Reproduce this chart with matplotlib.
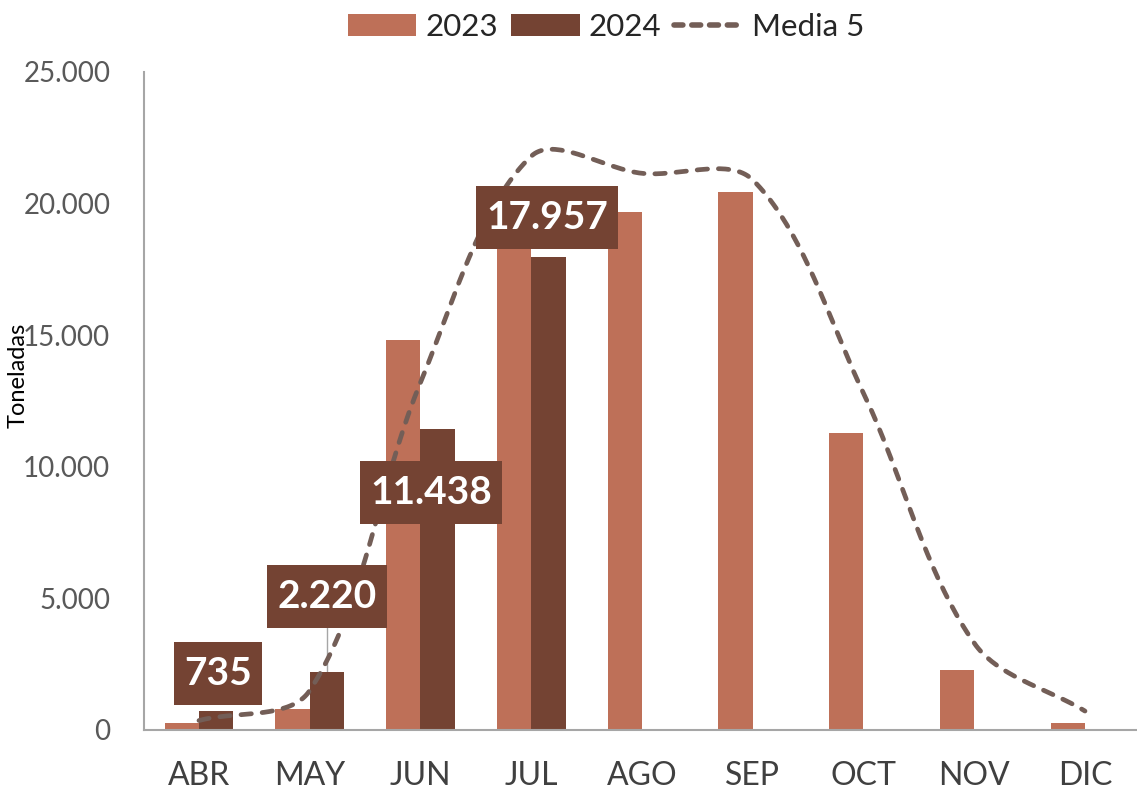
import numpy as np
import matplotlib
matplotlib.use("Agg")
import matplotlib.pyplot as plt
from matplotlib.ticker import FuncFormatter
from matplotlib.patches import Rectangle, Patch
from matplotlib.lines import Line2D
from matplotlib.transforms import IdentityTransform

plt.rcParams['font.family'] = ['Lato', 'DejaVu Sans']

# ---- data ----
months = ["ABR", "MAY", "JUN", "JUL", "AGO", "SEP", "OCT", "NOV", "DIC"]
v2023 = [280, 780, 14830, 18700, 19680, 20440, 11280, 2270, 280]
v2024 = [735, 2220, 11438, 17957]
media5 = [360, 1500, 13200, 21800, 21150, 20900, 12800, 3300, 720]
label_texts = ["735", "2.220", "11.438", "17.957"]

# ---- layout for data labels (offsets relative to bar top) ----
label_dx = [0.02, 0.0, -0.06, -0.01]
label_dy = [1430, 2870, -2430, 1530]

c2023 = "#BE7058"
c2024 = "#744333"
cline = "#735E57"

fig = plt.figure(figsize=(11.37, 7.93), dpi=100)
ax = fig.add_axes([143.6 / 1137, 1 - 730 / 793, 996.75 / 1137, 658 / 793])

x = np.arange(len(months))
w = 0.31
ax.bar(x - w / 2, v2023, width=w, color=c2023, zorder=2)
x24 = x[:len(v2024)]
ax.bar(x24 + w / 2, v2024, width=w, color=c2024, zorder=2)

ax.set_xlim(-0.5, len(months) - 0.5)
ax.set_ylim(0, 25000)

# smoothed line, Excel-like Bezier smoothing computed in screen space
def excel_smooth(xs, ys, n=40):
    pts = ax.transData.transform(np.column_stack([xs, ys]).astype(float))
    N = len(pts)
    out = []
    for i in range(N - 1):
        p1, p2 = pts[i], pts[i + 1]
        p0 = pts[i - 1] if i > 0 else p1
        p3 = pts[i + 2] if i + 2 < N else p2
        d1 = np.hypot(*(p1 - p0)); d2 = np.hypot(*(p2 - p1))
        T1 = p2 - p0
        c1 = p1 + T1 * (d2 / (d1 + d2)) / 3 if d1 + d2 > 0 else p1
        e1 = np.hypot(*(p2 - p1)); e2 = np.hypot(*(p3 - p2))
        T2 = p3 - p1
        c2 = p2 - T2 * (e1 / (e1 + e2)) / 3 if e1 + e2 > 0 else p2
        t = np.linspace(0, 1, n, endpoint=(i == N - 2))[:, None]
        seg = ((1 - t) ** 3) * p1 + 3 * ((1 - t) ** 2) * t * c1 + 3 * (1 - t) * t ** 2 * c2 + t ** 3 * p2
        out.append(seg)
    out = np.vstack(out)
    return ax.transData.inverted().transform(out)

curve = excel_smooth(x, media5)
ax.plot(curve[:, 0], curve[:, 1], color=cline, lw=3.4, dashes=(2.2, 2.3),
        dash_capstyle='round', zorder=3)

ax.set_yticks(np.arange(0, 25001, 5000))
ax.yaxis.set_major_formatter(FuncFormatter(lambda v, p: f"{int(v):,}".replace(",", ".")))
ax.set_xticks(x)
ax.set_xticklabels(months)
ax.tick_params(axis='x', length=0, pad=22, labelsize=23, labelcolor="#404040")
ax.tick_params(axis='y', length=0, pad=24, labelsize=20, labelcolor="#595959")

for s in ["top", "right"]:
    ax.spines[s].set_visible(False)
for s in ["left", "bottom"]:
    ax.spines[s].set_color("#A6A6A6")
    ax.spines[s].set_linewidth(1.5)

# data labels with boxes
renderer = fig.canvas.get_renderer()
for i, (val, txt) in enumerate(zip(v2024, label_texts)):
    lx = x24[i] + w / 2 + label_dx[i]
    ly = val + label_dy[i]
    t = ax.text(lx, ly, txt, ha='center', va='center', fontsize=28, fontweight='bold',
                color='white', zorder=6)
    bb = t.get_window_extent(renderer)
    cx, cy = ax.transData.transform((lx, ly))
    bw = bb.width + 20
    bh = 63
    ax.add_patch(Rectangle((cx - bw / 2, cy - bh / 2), bw, bh, transform=IdentityTransform(),
                           facecolor=c2024, edgecolor='none', zorder=5))

# leader line for MAY label
ax.plot([x24[1] + w / 2, x24[1] + w / 2], [v2024[1], v2024[1] + label_dy[1] - 1190],
        color="#A6A6A6", lw=1, zorder=1)

fig.text(18 / 1137, 1 - 375 / 793, "Toneladas", rotation=90, ha='center', va='center',
         fontsize=17, color="black")

handles = [Patch(facecolor=c2023, label="2023"),
           Patch(facecolor=c2024, label="2024"),
           Line2D([], [], color=cline, lw=4, dashes=(1.6, 1.6), dash_capstyle='round',
                  label="Media 5")]
fig.legend(handles=handles, loc='center', bbox_to_anchor=(606 / 1137, 1 - 27 / 793), ncol=3,
           frameon=False, fontsize=22.5, handlelength=2.2, handleheight=0.72,
           handletextpad=0.3, columnspacing=0.4, labelcolor="#262626")

fig.savefig("out.png", dpi=100)
